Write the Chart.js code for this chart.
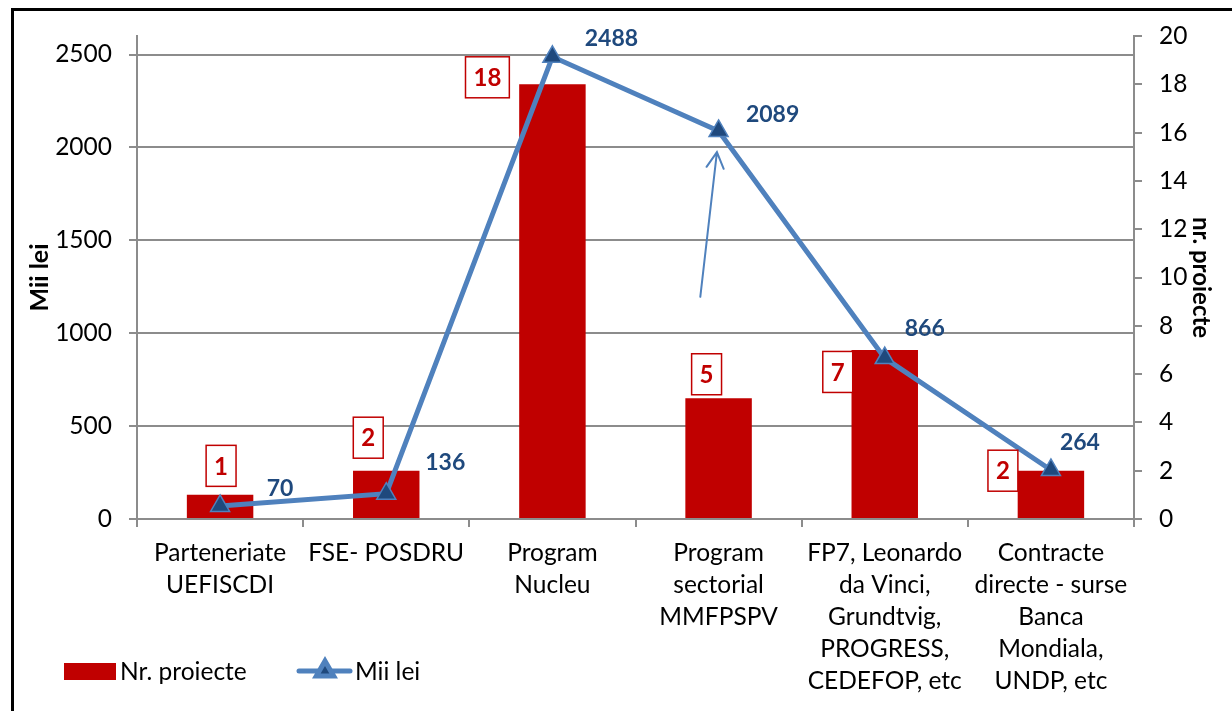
<!DOCTYPE html>
<html>
<head>
<meta charset="utf-8">
<script src="https://cdn.jsdelivr.net/npm/chart.js@4.4.0/dist/chart.umd.min.js"></script>
<style>
  html, body { margin: 0; padding: 0; background: #fff; overflow: hidden; }
  #wrap { position: relative; width: 1232px; height: 711px; }
  #frame { position: absolute; left: 11px; top: 8px; width: 1300px; height: 800px; border: 3px solid #000; pointer-events: none; }
  canvas { position: absolute; left: 0; top: 0; }
</style>
</head>
<body>
<div id="wrap">
  <canvas id="chart" width="1232" height="711"></canvas>
  <div id="frame"></div>
</div>
<script>
// Data
const categories = [
  ['Parteneriate', 'UEFISCDI'],
  ['FSE- POSDRU'],
  ['Program', 'Nucleu'],
  ['Program', 'sectorial', 'MMFPSPV'],
  ['FP7, Leonardo', 'da Vinci,', 'Grundtvig,', 'PROGRESS,', 'CEDEFOP, etc'],
  ['Contracte', 'directe - surse', 'Banca', 'Mondiala,', 'UNDP, etc']
];
const nrProiecte = [1, 2, 18, 5, 7, 2];
const miiLei = [70, 136, 2488, 2089, 866, 264];
const leftTicks = [0, 500, 1000, 1500, 2000, 2500];
const rightTicks = [0, 2, 4, 6, 8, 10, 12, 14, 16, 18, 20];

// arrow annotation in data units: [category index, Mii lei]
const arrowFrom = [2.89, 1196];
const arrowTo = [2.99, 1975];

const RED = '#C00000';
const BLUE = '#4F81BD';
const DARK_BLUE = '#1F497D';
const GRAY = '#8c8c8c';
const FONT = 'Lato, "Open Sans", sans-serif';

Chart.defaults.font.family = FONT;
Chart.defaults.color = '#000';

// label placement (px from bar top / point)
const barLabelOffsets = [[1, -29], [-18, -33], [-65, -7], [-12, -24], [-47, 22], [-48, 0]];
const lineLabelOffsets = [[60, -17], [59, -31], [59, -18], [54, -16], [40, -30], [29, -27]];

const labelsPlugin = {
  id: 'labels',
  afterDatasetsDraw(chart) {
    const ctx = chart.ctx;
    const xs = chart.scales.x;
    const yl = chart.scales.y;
    ctx.save();

    // arrow
    const x1 = xs.getPixelForValue(arrowFrom[0]), y1 = yl.getPixelForValue(arrowFrom[1]);
    const x2 = xs.getPixelForValue(arrowTo[0]), y2 = yl.getPixelForValue(arrowTo[1]);
    const ang = Math.atan2(y2 - y1, x2 - x1);
    ctx.strokeStyle = BLUE;
    ctx.lineWidth = 2;
    ctx.lineCap = 'round';
    ctx.beginPath();
    ctx.moveTo(x1, y1);
    ctx.lineTo(x2, y2);
    ctx.moveTo(x2 - 18 * Math.cos(ang - 0.5), y2 - 18 * Math.sin(ang - 0.5));
    ctx.lineTo(x2, y2);
    ctx.lineTo(x2 - 18 * Math.cos(ang + 0.5), y2 - 18 * Math.sin(ang + 0.5));
    ctx.stroke();

    // bar labels in boxes
    const barMeta = chart.getDatasetMeta(1);
    ctx.font = 'bold 24px ' + FONT;
    ctx.textAlign = 'center';
    ctx.textBaseline = 'middle';
    barMeta.data.forEach((bar, i) => {
      const txt = String(nrProiecte[i]);
      const cx = bar.x + barLabelOffsets[i][0];
      const cy = bar.y + barLabelOffsets[i][1];
      const w = ctx.measureText(txt).width + 16;
      const h = 41;
      ctx.fillStyle = '#fff';
      ctx.fillRect(cx - w / 2, cy - h / 2, w, h);
      ctx.strokeStyle = RED;
      ctx.lineWidth = 1.5;
      ctx.strokeRect(cx - w / 2, cy - h / 2, w, h);
      ctx.fillStyle = RED;
      ctx.fillText(txt, cx, cy + 1);
    });

    // line value labels
    const lineMeta = chart.getDatasetMeta(0);
    ctx.fillStyle = DARK_BLUE;
    ctx.font = 'bold 23px ' + FONT;
    lineMeta.data.forEach((pt, i) => {
      ctx.fillText(String(miiLei[i]), pt.x + lineLabelOffsets[i][0], pt.y + lineLabelOffsets[i][1]);
    });
    ctx.restore();
  },
  afterDraw(chart) {
    // legend
    const ctx = chart.ctx;
    ctx.save();
    ctx.fillStyle = RED;
    ctx.fillRect(64, 663, 52, 17);
    ctx.fillStyle = '#000';
    ctx.font = '24.5px ' + FONT;
    ctx.textAlign = 'left';
    ctx.textBaseline = 'middle';
    ctx.fillText('Nr. proiecte', 120, 672);

    ctx.strokeStyle = BLUE;
    ctx.lineWidth = 5;
    ctx.lineCap = 'round';
    ctx.beginPath();
    ctx.moveTo(299, 671);
    ctx.lineTo(350, 671);
    ctx.stroke();
    ctx.fillStyle = DARK_BLUE;
    ctx.strokeStyle = BLUE;
    Chart.helpers.drawPoint(ctx, { pointStyle: 'triangle', radius: 10, borderWidth: 1.5, rotation: 0 }, 325, 671);
    ctx.fillStyle = '#000';
    ctx.fillText('Mii lei', 355, 672);
    ctx.restore();
  }
};

new Chart(document.getElementById('chart'), {
  type: 'bar',
  data: {
    labels: categories,
    datasets: [{
      type: 'line',
      label: 'Mii lei',
      data: miiLei,
      yAxisID: 'y',
      borderColor: BLUE,
      borderWidth: 5,
      pointStyle: 'triangle',
      pointRadius: 11,
      pointBackgroundColor: DARK_BLUE,
      pointBorderColor: BLUE,
      pointBorderWidth: 1.5,
      tension: 0,
      order: 0
    }, {
      type: 'bar',
      label: 'Nr. proiecte',
      data: nrProiecte,
      yAxisID: 'y1',
      backgroundColor: RED,
      barPercentage: 0.4,
      categoryPercentage: 1,
      order: 1
    }]
  },
  options: {
    responsive: false,
    animation: false,
    layout: { padding: { top: 36, left: 0, right: 0, bottom: 0 } },
    plugins: {
      legend: { display: false },
      tooltip: { enabled: false }
    },
    scales: {
      x: {
        offset: true,
        grid: { offset: true, drawOnChartArea: false, drawTicks: true, tickLength: 8, color: GRAY, lineWidth: 2 },
        border: { color: GRAY, width: 2 },
        ticks: { autoSkip: false, maxRotation: 0, padding: 10, font: { size: 24.5, lineHeight: 1.31 } },
        afterFit(s) { s.height = 192; }
      },
      y: {
        position: 'left',
        min: 0,
        max: 2600,
        afterBuildTicks(s) { s.ticks = leftTicks.map(v => ({ value: v })); },
        grid: { color: GRAY, lineWidth: 2, tickLength: 8 },
        border: { color: GRAY, width: 2 },
        ticks: { padding: 17, font: { size: 24.5 }, callback: v => String(v) },
        title: { display: true, text: 'Mii lei', font: { size: 25, weight: 'bold' }, padding: { top: 25, bottom: 0 } },
        afterFit(s) { s.width = 137; }
      },
      y1: {
        position: 'right',
        min: 0,
        max: 20,
        afterBuildTicks(s) { s.ticks = rightTicks.map(v => ({ value: v })); },
        grid: { drawOnChartArea: false, color: GRAY, lineWidth: 2, tickLength: 8 },
        border: { color: GRAY, width: 2 },
        ticks: { padding: 17, font: { size: 24.5 }, callback: v => String(v) },
        title: { display: true, text: 'nr. proiecte', font: { size: 24, weight: 'bold' }, padding: { top: 17, bottom: 0 } },
        afterFit(s) { s.width = 98; }
      }
    }
  },
  plugins: [labelsPlugin]
});
</script>
</body>
</html>
